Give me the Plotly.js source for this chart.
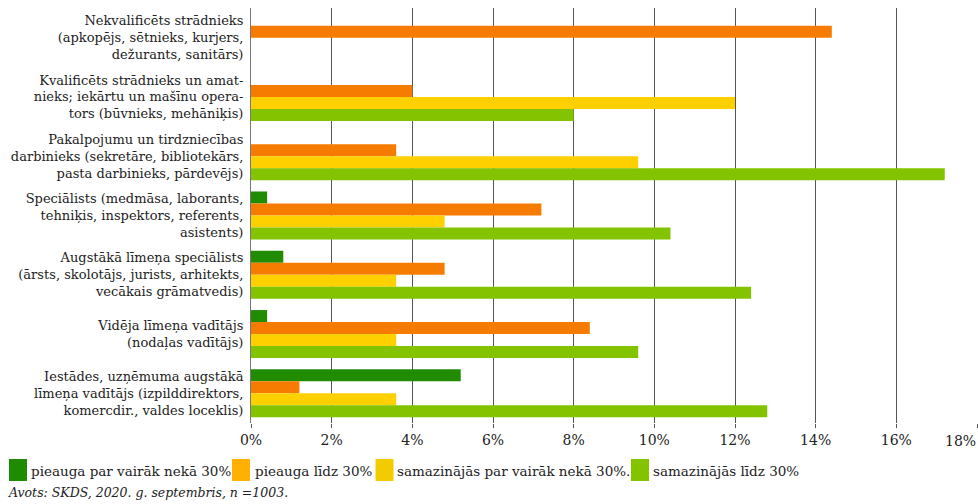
<!DOCTYPE html>
<html>
<head>
<meta charset="utf-8">
<script src="https://cdn.plot.ly/plotly-3.0.1.min.js"></script>
<style>html,body{margin:0;padding:0;background:#fff;}#chart{width:978px;height:504px;}</style>
</head>
<body>
<div id="chart"></div>
<script>
const categories = [
  "Nekvalificēts strādnieks<br>(apkopējs, sētnieks, kurjers,<br>dežurants, sanitārs)",
  "Kvalificēts strādnieks un amat-<br>nieks; iekārtu un mašīnu opera-<br>tors (būvnieks, mehāniķis)",
  "Pakalpojumu un tirdzniecības<br>darbinieks (sekretāre, bibliotekārs,<br>pasta darbinieks, pārdevējs)",
  "Speciālists (medmāsa, laborants,<br>tehniķis, inspektors, referents,<br>asistents)",
  "Augstākā līmeņa speciālists<br>(ārsts, skolotājs, jurists, arhitekts,<br>vecākais grāmatvedis)",
  "Vidēja līmeņa vadītājs<br>(nodaļas vadītājs)",
  "Iestādes, uzņēmuma augstākā<br>līmeņa vadītājs (izpilddirektors,<br>komercdir., valdes loceklis)"
];
const seriesNames = [
  "pieauga par vairāk nekā 30%",
  "pieauga līdz 30%",
  "samazinājās par vairāk nekā 30%.",
  "samazinājās līdz 30%"
];
const grewOver30 =    [0, 0, 0, 0.4, 0.8, 0.4, 5.2];
const grewUpTo30 =    [14.4, 4.0, 3.6, 7.2, 4.8, 8.4, 1.2];
const fellOver30 =    [0, 12.0, 9.6, 4.8, 3.6, 3.6, 3.6];
const fellUpTo30 =    [0, 8.0, 17.2, 10.4, 12.4, 9.6, 12.8];
const tickValues = [0, 2, 4, 6, 8, 10, 12, 14, 16, 18];
const tickLabels = ["0%", "2%", "4%", "6%", "8%", "10%", "12%", "14%", "16%", ""];
const lastTickLabel = "18%";
const sourceNote = "Avots: SKDS, 2020. g. septembris, n =1003.";

const barColors = ["#218c00", "#f57c00", "#ffd000", "#84c300"];
const legendColors = ["#1f8c00", "#ffb000", "#f2cc00", "#84c300"];
const values = [grewOver30, grewUpTo30, fellOver30, fellUpTo30];

const FONT = "DejaVu Serif, Liberation Serif, serif";
const data = values.map((v, i) => ({
  type: "bar",
  orientation: "h",
  y: categories,
  x: v,
  name: seriesNames[i],
  marker: {color: barColors[i], line: {width: 0}},
  showlegend: false,
  hoverinfo: "x+name"
}));

// manual legend
const legendX = [9, 232, 375.5, 631];
const textX = [29, 253, 395, 651];
const shapes = [];
const annotations = [];
const W = 978, H = 504;
const PT = 8, PB = 423, PL = 251, PR = 977;
const px = x => (x - PL) / (PR - PL);
const py = y => (PB - y) / (PB - PT);
legendX.forEach((x0, i) => {
  shapes.push({type: "rect", xref: "paper", yref: "paper",
    x0: px(x0), x1: px(x0 + 18), y0: py(481), y1: py(459),
    fillcolor: legendColors[i], line: {width: 0}});
  annotations.push({xref: "paper", yref: "paper",
    x: px(textX[i]), y: py(471),
    xanchor: "left", yanchor: "middle", showarrow: false,
    text: seriesNames[i], font: {family: FONT, size: 13.5, color: "#222"}});
});
annotations.push({xref: "paper", yref: "paper",
  x: px(6), y: py(493),
  xanchor: "left", yanchor: "middle", showarrow: false,
  text: "<i>" + sourceNote + "</i>", font: {family: FONT, size: 12.5, color: "#222"}});
annotations.push({xref: "x", yref: "paper", x: 18, y: py(441),
  xanchor: "right", yanchor: "middle", showarrow: false, xshift: 1,
  text: lastTickLabel, font: {family: FONT, size: 14, color: "#222"}});

const layout = {
  width: W, height: H,
  margin: {l: PL, r: W - PR, t: PT, b: H - PB},
  barmode: "group",
  bargap: 0.19,
  bargroupgap: 0,
  paper_bgcolor: "#fff",
  plot_bgcolor: "#fff",
  showlegend: false,
  font: {family: FONT, color: "#222"},
  xaxis: {
    range: [0, 18],
    tickvals: tickValues,
    ticktext: tickLabels,
    showgrid: true,
    gridcolor: "#555",
    gridwidth: 1,
    zeroline: false,
    showline: false,
    ticks: "outside",
    ticklen: 4,
    tickcolor: "#555",
    tickfont: {family: FONT, size: 14, color: "#222"},
    fixedrange: true
  },
  yaxis: {
    autorange: "reversed",
    type: "category",
    showgrid: false,
    showline: true,
    linecolor: "#777",
    linewidth: 1,
    ticks: "",
    ticklabelstandoff: 4,
    tickfont: {family: FONT, size: 13, color: "#222"},
    fixedrange: true
  },
  shapes: shapes,
  annotations: annotations
};

Plotly.newPlot("chart", data, layout, {displayModeBar: false, staticPlot: true});
</script>
</body>
</html>
